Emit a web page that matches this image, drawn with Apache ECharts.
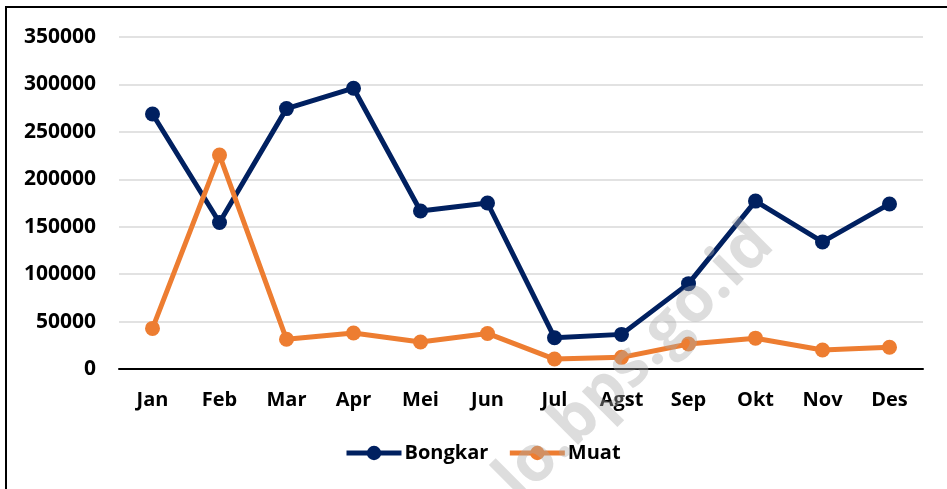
<!DOCTYPE html>
<html>
<head>
<meta charset="utf-8">
<script src="https://cdn.jsdelivr.net/npm/echarts@6/dist/echarts.min.js"></script>
<style>
  html, body { margin: 0; padding: 0; background: #fff; }
  #chart { width: 947px; height: 489px; }
</style>
</head>
<body>
<div id="chart"></div>
<script>
// data
const months = ['Jan', 'Feb', 'Mar', 'Apr', 'Mei', 'Jun', 'Jul', 'Agst', 'Sep', 'Okt', 'Nov', 'Des'];
const bongkar = [268800, 154500, 274500, 296000, 166500, 175000, 33000, 36500, 90000, 177000, 134000, 174000];
const muat = [42800, 225500, 31300, 38000, 28500, 37500, 10500, 12300, 26400, 32500, 20000, 22900];

const fontFamily = '"Open Sans", "Liberation Sans", sans-serif';

const chart = echarts.init(document.getElementById('chart'));

chart.setOption({
  animation: false,
  backgroundColor: '#fff',
  grid: {
    left: 119,
    right: 24,
    top: 37,
    bottom: 120
  },
  legend: {
    left: 344,
    top: 443,
    padding: 0,
    itemWidth: 55,
    itemHeight: 18,
    itemGap: 19,
    lineStyle: { width: 5 },
    textStyle: {
      fontFamily: fontFamily,
      fontWeight: 'bold',
      fontSize: 20,
      color: '#000',
      padding: [0, 0, 0, -2]
    },
    data: ['Bongkar', 'Muat']
  },
  xAxis: {
    type: 'category',
    data: months,
    boundaryGap: true,
    axisLine: { lineStyle: { color: '#000', width: 2 } },
    axisTick: { show: false },
    axisLabel: {
      margin: 21,
      fontFamily: fontFamily,
      fontWeight: 'bold',
      fontSize: 20,
      color: '#000'
    }
  },
  yAxis: {
    type: 'value',
    min: 0,
    max: 350000,
    interval: 50000,
    axisLine: { show: false },
    axisTick: { show: false },
    splitLine: { lineStyle: { color: '#d9d9d9', width: 1.5 } },
    axisLabel: {
      margin: 23,
      fontFamily: fontFamily,
      fontWeight: 'bold',
      fontSize: 21,
      color: '#000',
      formatter: function (value) {
        return String(value);
      }
    }
  },
  series: [
    {
      name: 'Bongkar',
      type: 'line',
      data: bongkar,
      symbol: 'circle',
      symbolSize: 15,
      itemStyle: { color: '#002060' },
      lineStyle: { color: '#002060', width: 5 }
    },
    {
      name: 'Muat',
      type: 'line',
      data: muat,
      symbol: 'circle',
      symbolSize: 15,
      itemStyle: { color: '#ed7d31' },
      lineStyle: { color: '#ed7d31', width: 5 }
    }
  ],
  graphic: [
    {
      type: 'rect',
      silent: true,
      shape: { x: 6, y: 7, width: 1200, height: 800 },
      style: { fill: 'none', stroke: '#000', lineWidth: 2 }
    },
    {
      type: 'text',
      silent: true,
      z: 100,
      x: 635,
      y: 362,
      rotation: Math.PI / 4,
      style: {
        text: 'lo.bps.go.id',
        fontFamily: fontFamily,
        fontWeight: 'bold',
        fontSize: 64,
        fill: 'rgba(170,170,170,0.4)',
        align: 'center',
        verticalAlign: 'middle'
      }
    }
  ]
});
</script>
</body>
</html>
